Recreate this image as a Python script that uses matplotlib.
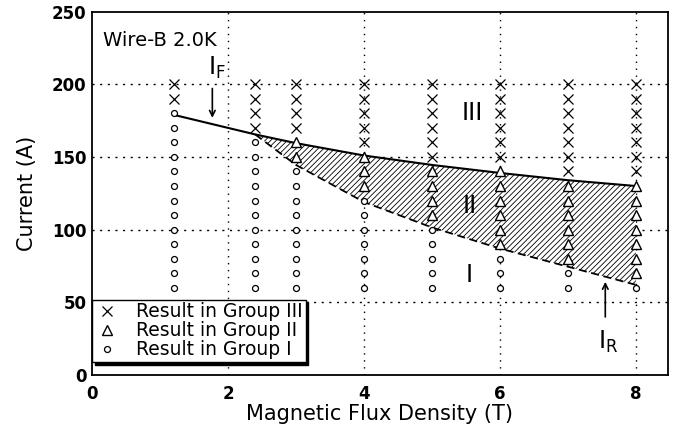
import numpy as np
import matplotlib
matplotlib.use("Agg")
import matplotlib.pyplot as plt

plt.rcParams['font.family'] = ['DejaVu Sans']
plt.rcParams['hatch.linewidth'] = 0.6

# measurement columns (T) and the currents (A) of each result group
fields = [1.2, 2.4, 3.0, 4.0, 5.0, 6.0, 7.0, 8.0]
group3 = {1.2: (190, 200), 2.4: (170, 200), 3.0: (170, 200), 4.0: (160, 200),
          5.0: (150, 200), 6.0: (150, 200), 7.0: (140, 200), 8.0: (140, 200)}
group2 = {3.0: (150, 160), 4.0: (130, 150), 5.0: (110, 140),
          6.0: (90, 140), 7.0: (80, 130), 8.0: (70, 130)}
group1 = {1.2: (60, 180), 2.4: (60, 160), 3.0: (60, 140), 4.0: (60, 120),
          5.0: (60, 100), 6.0: (60, 80), 7.0: (60, 70), 8.0: (60, 60)}

# I_F (solid) and I_R (dashed) boundaries
if_b = [1.2, 2.4, 3.0, 4.0, 5.0, 6.0, 7.0, 8.0]
if_i = [179, 165.5, 159.5, 151, 144.5, 139, 134, 130]
ir_b = [2.4, 3.0, 4.0, 5.0, 6.0, 7.0, 8.0]
ir_i = [165.5, 144.5, 119, 101.5, 87, 74.5, 62]


def expand(groups):
    xs, ys = [], []
    for b, (lo, hi) in groups.items():
        for c in range(lo, hi + 1, 10):
            xs.append(b)
            ys.append(c)
    return xs, ys


fig = plt.figure(figsize=(6.78, 4.30), dpi=100)
ax = fig.add_axes([0.1357, 0.128, 0.8493, 0.845])

# hatched region II
upper = np.interp(ir_b, if_b, if_i)
ax.fill_between(ir_b, ir_i, upper, facecolor='white', edgecolor='black',
                hatch='//////', linewidth=0, zorder=1)
ax.plot(if_b, if_i, color='black', lw=1.5, zorder=3)
ax.plot(ir_b, ir_i, color='black', lw=1.3, ls=(0, (4.5, 2.5)), zorder=3)

x3, y3 = expand(group3)
x2, y2 = expand(group2)
x1, y1 = expand(group1)
ax.plot(x3, y3, 'x', color='black', ms=6.5, mew=0.9, zorder=4,
        label='Result in Group III')
ax.plot(x2, y2, '^', mfc='white', mec='black', ms=7.5, mew=1.0, zorder=4,
        label='Result in Group II')
ax.plot(x1, y1, 'o', mfc='white', mec='black', ms=4.3, mew=0.9, zorder=4,
        label='Result in Group I')

ax.set_xlim(0, 8.47)
ax.set_ylim(0, 250)
ax.set_xticks([0, 2, 4, 6, 8])
ax.set_yticks([0, 50, 100, 150, 200, 250])
ax.tick_params(length=0, labelsize=12)
ax.tick_params(axis='x', pad=7)
ax.tick_params(axis='y', pad=4)
for lab in ax.get_xticklabels() + ax.get_yticklabels():
    lab.set_fontweight('bold')
for v in [2, 4, 6, 8]:
    ax.axvline(v, color='black', lw=1, ls=(0, (1, 4)), zorder=0)
for v in [50, 100, 150, 200]:
    ax.axhline(v, color='black', lw=1, ls=(0, (1.5, 4)), zorder=0)
for s in ax.spines.values():
    s.set_linewidth(1.3)

ax.set_xlabel('Magnetic Flux Density (T)', fontsize=15, labelpad=1)
ax.set_ylabel('Current (A)', fontsize=15, labelpad=11)

ax.text(0.165, 230, 'Wire-B 2.0K', fontsize=14, va='center', ha='left')
ax.text(5.6, 180, 'III', fontsize=17, ha='center', va='center')
ax.text(5.55, 116, 'II', fontsize=17, ha='center', va='center')
ax.text(5.55, 69, 'I', fontsize=17, ha='center', va='center')

ax.annotate('', xy=(1.77, 175), xytext=(1.77, 199),
            arrowprops=dict(arrowstyle='->', color='black', lw=1.2))
ax.text(1.70, 211, r'I$_\mathregular{F}$', fontsize=17, ha='left', va='center')
ax.annotate('', xy=(7.55, 66), xytext=(7.55, 38),
            arrowprops=dict(arrowstyle='->', color='black', lw=1.2))
ax.text(7.45, 23, r'I$_\mathregular{R}$', fontsize=17, ha='left', va='center')

leg = ax.legend(loc='lower left', bbox_to_anchor=(0.0, 0.035), fontsize=13.5,
                frameon=True, fancybox=False,
                shadow={'color': 'black', 'alpha': 1, 'ox': 2, 'oy': -2},
                borderaxespad=0, handletextpad=0.9, borderpad=0.15,
                labelspacing=0.0, handlelength=1.3)
leg.get_frame().set_edgecolor('black')
leg.get_frame().set_linewidth(1.0)

plt.savefig('out.png', dpi=100)
